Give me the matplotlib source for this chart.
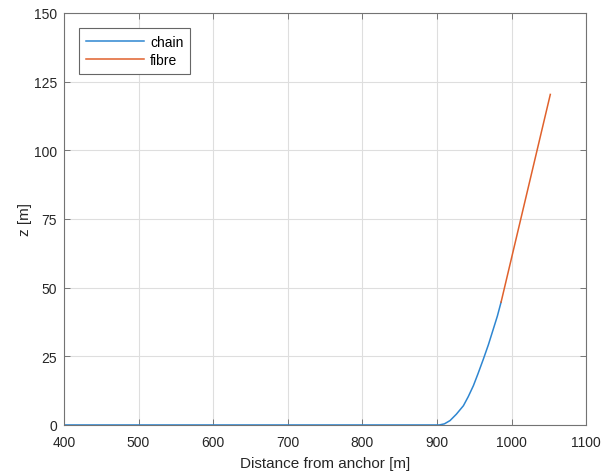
import matplotlib
matplotlib.use("Agg")
import matplotlib.pyplot as plt

# Mooring line profile: chain segment on the seabed rising into the fibre segment
chain_x = [400, 903, 910, 917.6, 926, 935.5, 942, 948.9, 955, 962.3, 969, 975.7, 981, 986]
chain_z = [0, 0, 0.4, 1.6, 3.9, 7.0, 10.3, 14.3, 18.6, 24.0, 29.2, 35.0, 39.6, 44.7]
fibre_x = [986, 1052]
fibre_z = [44.7, 120.3]

X_TICKS = [400, 500, 600, 700, 800, 900, 1000, 1100]
Z_TICKS = [0, 25, 50, 75, 100, 125, 150]

plt.rcParams["font.family"] = ["Liberation Sans", "DejaVu Sans"]
axis_grey = (0.15, 0.15, 0.15)

fig = plt.figure(figsize=(6.03, 4.77), dpi=100)
ax = fig.add_axes([0.106, 0.107, 0.866, 0.864])

ax.plot(chain_x, chain_z, color="#2E86D1", lw=1.1, label="chain")
ax.plot(fibre_x, fibre_z, color="#E0612C", lw=1.1, label="fibre")

ax.set_xlim(400, 1100)
ax.set_ylim(0, 150)
ax.set_xticks(X_TICKS)
ax.set_yticks(Z_TICKS)
ax.grid(True, color=(0.87, 0.87, 0.87), lw=0.8)
ax.set_axisbelow(True)
ax.tick_params(direction="in", top=True, right=True, length=4,
               colors=(0.4, 0.4, 0.4), labelcolor=axis_grey, labelsize=10, width=0.6)
ax.tick_params(axis="x", pad=7)
ax.tick_params(axis="y", pad=5)
for s in ax.spines.values():
    s.set_color((0.45, 0.45, 0.45))
    s.set_linewidth(0.8)

ax.set_xlabel("Distance from anchor [m]", fontsize=11, color=axis_grey, labelpad=5)
ax.set_ylabel("z [m]", fontsize=11, color=axis_grey, labelpad=1)

leg = ax.legend(loc="upper left", fontsize=10, fancybox=False, framealpha=1,
                edgecolor=(0.4, 0.4, 0.4), borderaxespad=1.1,
                handlelength=4.2, labelspacing=0.3, borderpad=0.5,
                handletextpad=0.4)
leg.get_frame().set_linewidth(0.8)

fig.savefig("out.png", dpi=100)
